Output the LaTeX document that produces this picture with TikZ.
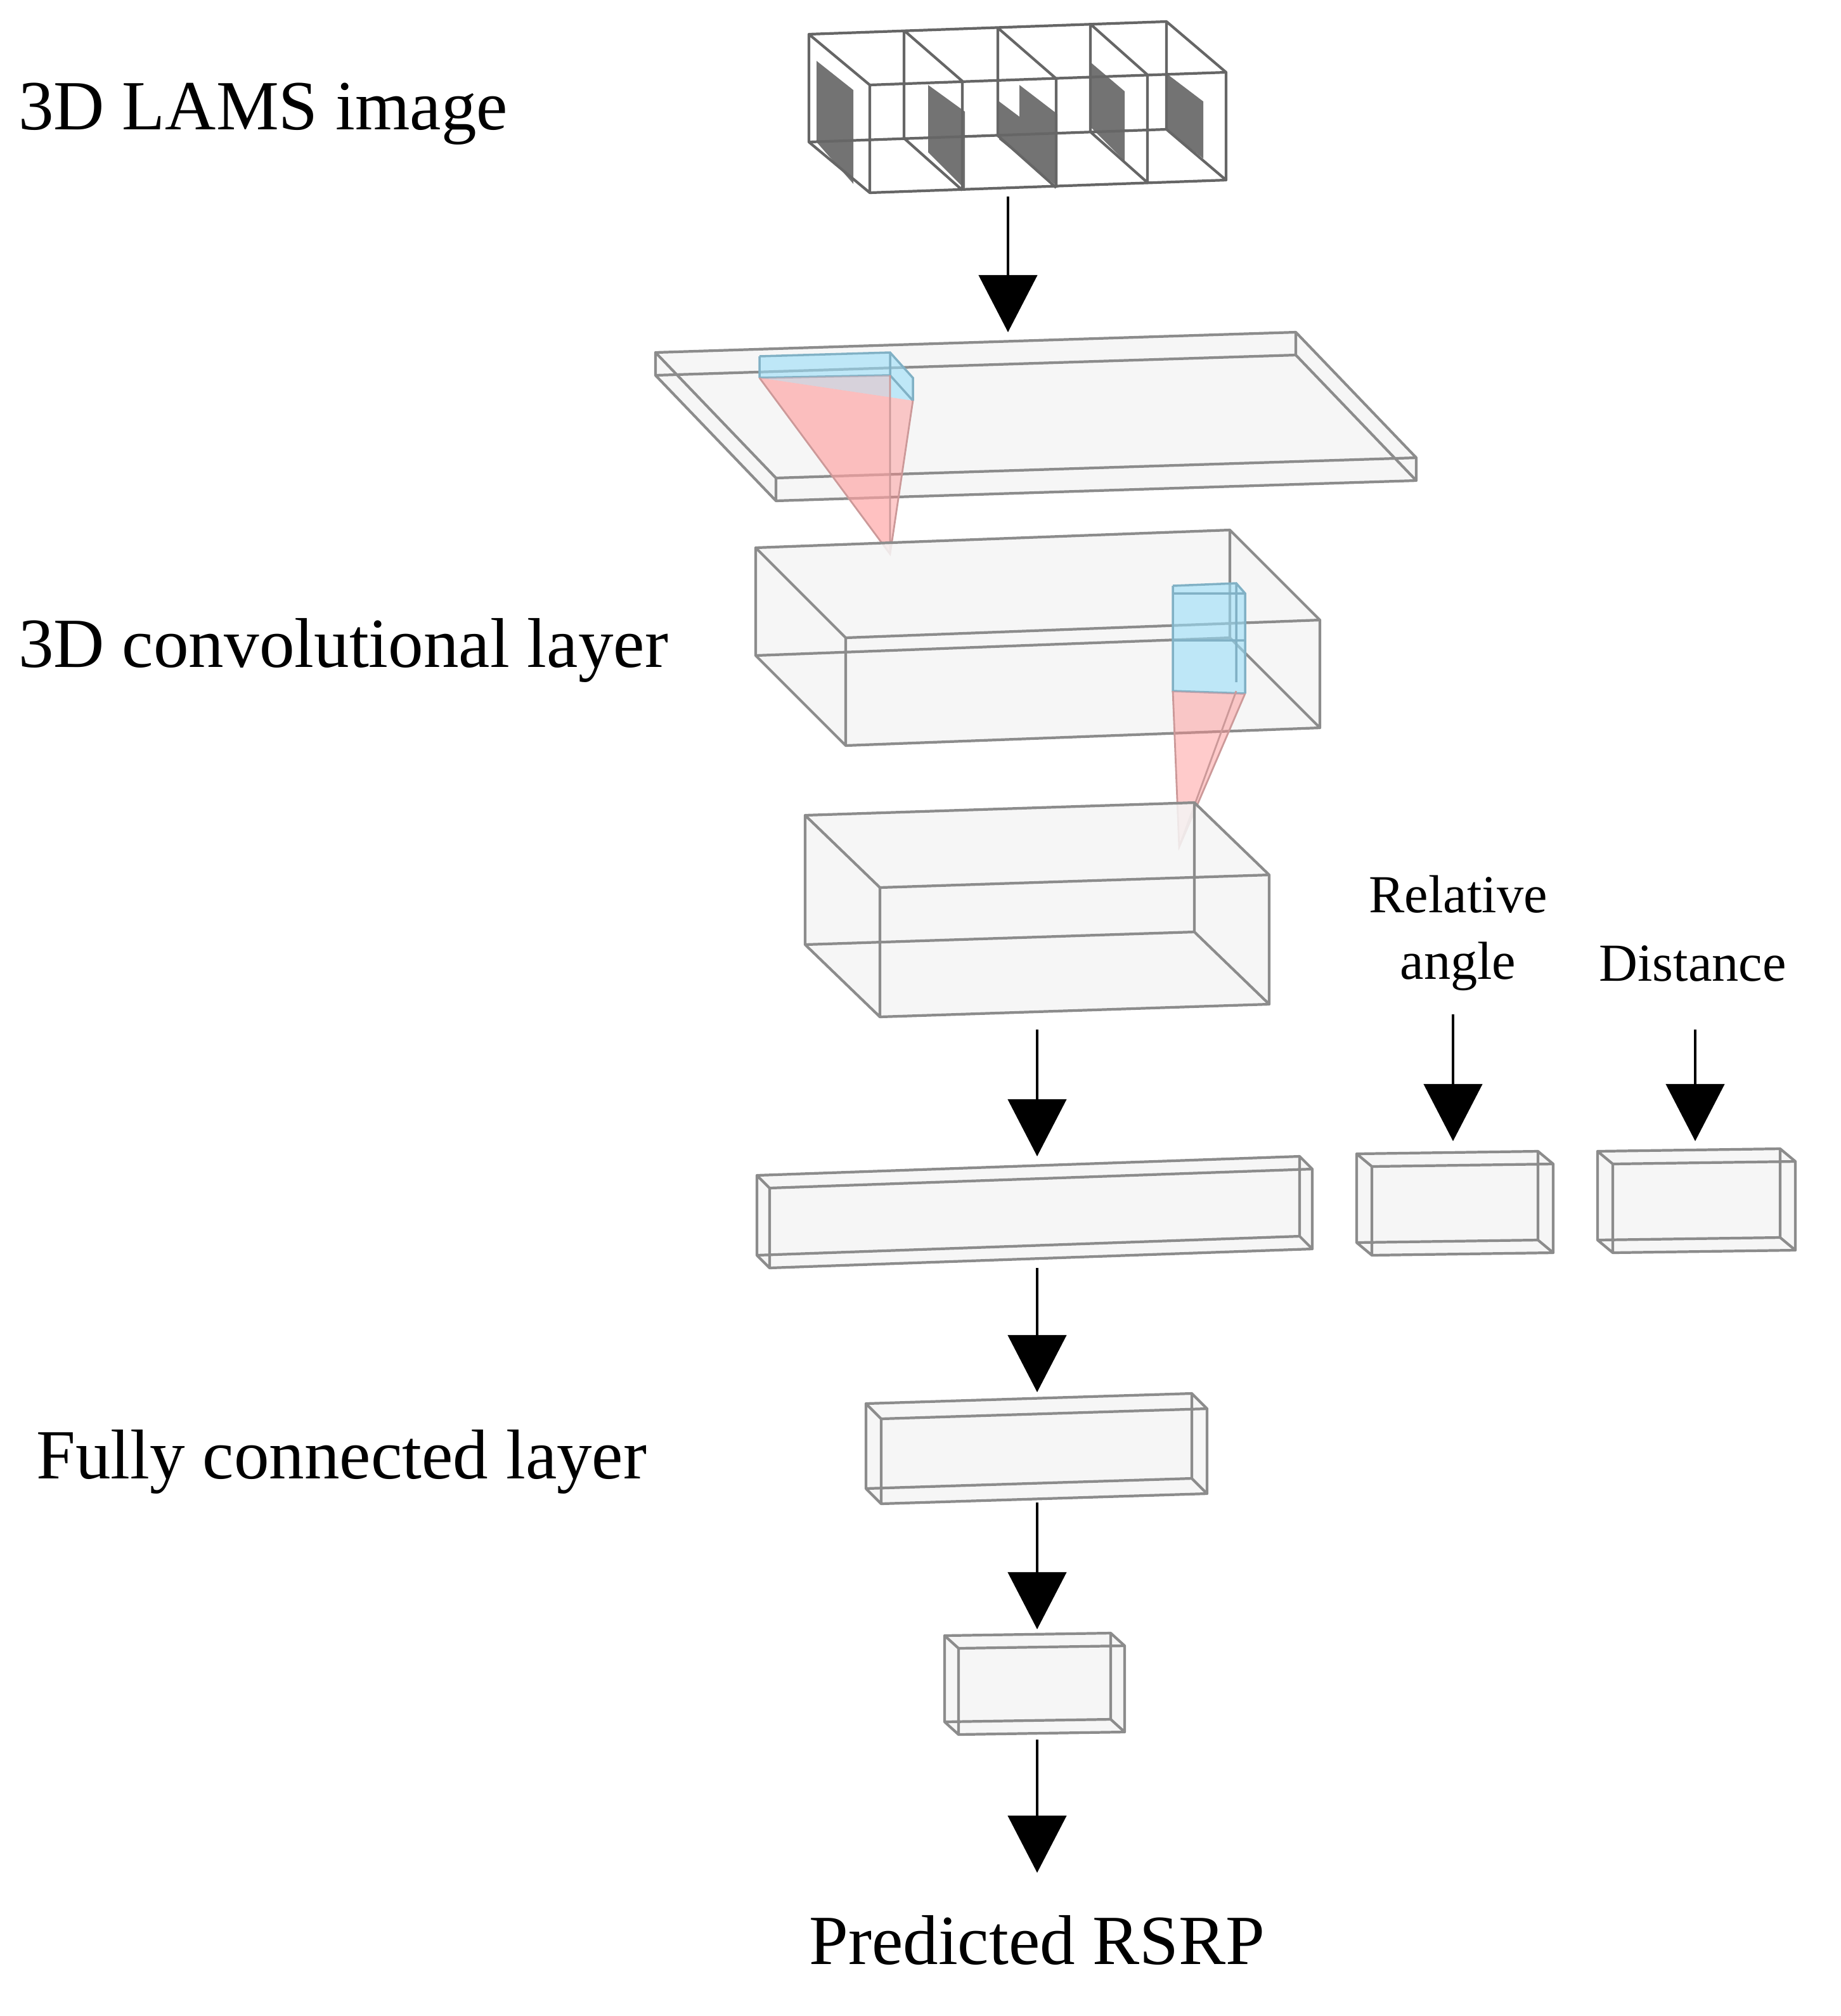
\documentclass[tikz,border=0pt]{standalone}
\usepackage{fontspec}
\setmainfont{Liberation Serif}
\usetikzlibrary{arrows.meta}
\newcommand\cub[8][black!45]{%
 \fill[black!4,opacity=0.85] (#2,#3) -- ({#2+#4},{#3+#8}) -- ({#2+#4+#6},{#3+#8+#7}) -- ({#2+#4+#6},{#3+#8+#7+#5}) -- ({#2+#6},{#3+#7+#5}) -- (#2,{#3+#5}) -- cycle;
 \draw[#1,line width=0.6pt,line join=round] (#2,#3) -- ({#2+#4},{#3+#8}) -- ({#2+#4},{#3+#8+#5}) -- (#2,{#3+#5}) -- cycle
  ({#2+#6},{#3+#7}) -- ({#2+#4+#6},{#3+#8+#7}) -- ({#2+#4+#6},{#3+#8+#7+#5}) -- ({#2+#6},{#3+#7+#5}) -- cycle
  (#2,#3) -- ++(#6,#7) ({#2+#4},{#3+#8}) -- ++(#6,#7) ({#2+#4},{#3+#8+#5}) -- ++(#6,#7) (#2,{#3+#5}) -- ++(#6,#7);}
\tikzset{arr/.style={line width=0.6pt,-{Triangle[width=0.46cm,length=0.45cm]}},
 big/.style={font=\fontsize{15.8}{18}\selectfont,inner sep=0},
 small/.style={font=\fontsize{12}{15}\selectfont,inner sep=0,align=center},
 panel/.style={fill=black!55}}
\begin{document}
\begin{tikzpicture}[x=0.01cm,y=-0.01cm]
\useasboundingbox (0,0) rectangle (1452,1590);
% input image
\fill[white] (638,27) -- (920,17) -- (967,57) -- (967,142) -- (686,152) -- (638,112) -- cycle;
\fill[panel] (644,48) -- (673,71) -- (673,145) -- (644,112) -- cycle;
\fill[panel] (732,67) -- (761,88) -- (761,149) -- (732,120) -- cycle;
\fill[panel] (788,80) -- (804,92) -- (804,67) -- (834,90) -- (834,147) -- (788,110) -- cycle;
\fill[panel] (860,49) -- (887,72) -- (887,127) -- (860,100) -- cycle;
\fill[panel] (920,58) -- (949,80) -- (949,125) -- (920,102) -- cycle;
\draw[black!60,line width=0.6pt,line join=round]
 (638,27) -- (920,17) -- (920,102) -- (638,112) -- cycle
 (686,67) -- (967,57) -- (967,142) -- (686,152) -- cycle
 (638,27) -- (686,67) (920,17) -- (967,57) (920,102) -- (967,142) (638,112) -- (686,152)
 (713,24) -- (759,64) -- (759,150) (713,24) -- (713,109) -- (759,150)
 (787,22) -- (833,62) -- (833,148) (787,22) -- (787,107) -- (833,148)
 (860,19) -- (905,59) -- (905,144) (860,19) -- (860,104) -- (905,144);
\node[big,anchor=west] (t1) at (14,90) {3D LAMS image};
\coordinate (a1s) at (795,155); \coordinate (a1e) at (795,262);
\draw[arr] (a1s) -- (a1e);
% slab
\cub{517}{278}{505}{18}{95}{99}{-16}
\fill[cyan!40,opacity=0.6] (599,281) -- (702,278) -- (720,298) -- (720,316) -- (599,298) -- cycle;
\draw[cyan!60!black!60,line width=0.5pt] (599,281) -- (702,278) -- (720,298) -- (720,316) (599,281) -- (599,298) (702,278) -- (702,296) (599,298) -- (702,296) -- (720,316);
\fill[red!45,opacity=0.45] (599,298) -- (720,316) -- (702,437) -- cycle;
\fill[red!30,opacity=0.4] (599,298) -- (702,296) -- (702,437) -- cycle;
\draw[red!50!black!40,line width=0.4pt] (599,298) -- (702,437) -- (720,316) (702,296) -- (702,437);
% layer 2
\cub{596}{432}{374}{85}{71}{71}{-14}
\fill[cyan!40,opacity=0.6] (925,462) -- (975,460) -- (982,468) -- (982,547) -- (925,545) -- cycle;
\draw[cyan!60!black!60,line width=0.5pt] (925,462) -- (975,460) -- (982,468) -- (982,547) (925,462) -- (925,545) -- (982,547) (975,460) -- (975,538) (925,468)--(982,468) (925,505)--(982,505);
\fill[red!45,opacity=0.45] (925,545) -- (982,547) -- (930,668) -- cycle;
\draw[red!50!black!40,line width=0.4pt] (925,545) -- (930,668) -- (982,547) (975,545) -- (930,668);
\node[big,anchor=west] (t2) at (14,513) {3D convolutional layer};
% layer 3
\cub{635}{643}{307}{102}{59}{57}{-10}
\coordinate (a2s) at (818,812); \coordinate (a2e) at (818,912);
\draw[arr] (a2s) -- (a2e);
% flatten bar and side inputs
\cub{597}{927}{428}{63}{10}{10}{-15}
\cub{1070}{910}{143}{70}{12}{10}{-2}
\cub{1260}{908}{144}{70}{12}{10}{-2}
\node[small] (ra) at (1150,736) {Relative\\angle};
\node[small] (di) at (1335,760) {Distance};
\coordinate (a3s) at (1146,800); \coordinate (a3e) at (1146,900);
\coordinate (a4s) at (1337,812); \coordinate (a4e) at (1337,900);
\draw[arr] (a3s) -- (a3e);
\draw[arr] (a4s) -- (a4e);
\coordinate (a5s) at (818,1000); \coordinate (a5e) at (818,1098);
\draw[arr] (a5s) -- (a5e);
% FC
\cub{683}{1107}{257}{67}{12}{12}{-8}
\node[big,anchor=west] (t3) at (28,1153) {Fully connected layer};
\coordinate (a6s) at (818,1185); \coordinate (a6e) at (818,1285);
\draw[arr] (a6s) -- (a6e);
\cub{745}{1290}{131}{68}{11}{10}{-2}
\coordinate (a7s) at (818,1372); \coordinate (a7e) at (818,1477);
\draw[arr] (a7s) -- (a7e);
\node[big] (t4) at (818,1530) {Predicted RSRP};
\end{tikzpicture}
\end{document}
